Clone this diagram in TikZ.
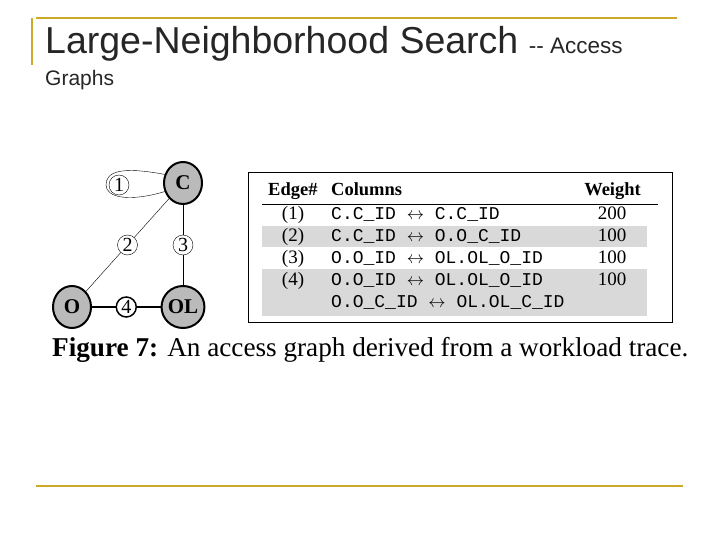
\documentclass[tikz,border=0pt]{standalone}
\usepackage{fontspec}
\setmainfont{Liberation Serif}
\setsansfont{Liberation Sans}
\setmonofont{Liberation Mono}
\begin{document}
\begin{tikzpicture}[x=1pt,y=-1pt,
  big/.style={ellipse,draw,line width=2pt,fill=black!27,minimum width=38pt,minimum height=42pt,inner sep=0pt,font=\rmfamily\bfseries\fontsize{21}{21}\selectfont},
  lab/.style={circle,draw,fill=white,minimum size=20pt,inner sep=0pt,font=\rmfamily\fontsize{20}{20}\selectfont},
  row/.style={anchor=base west,font=\ttfamily\fontsize{18}{18}\selectfont,inner sep=0pt},
  num/.style={anchor=base,font=\rmfamily\fontsize{19}{19}\selectfont,inner sep=0pt}]
\usetikzlibrary{shapes.geometric}
\definecolor{gold}{RGB}{204,170,40}
\useasboundingbox (0,0) rectangle (720,540);
\fill[white] (0,0) rectangle (720,540);
\draw[gold,line width=2pt] (36,18) -- (677,18);
\draw[gold,line width=2pt] (32,18) -- (32,65);
\draw[gold,line width=2pt] (36,486) -- (683,486);
\node[anchor=base west,inner sep=0pt,font=\sffamily\fontsize{37.5}{37}\selectfont,text=black!85] (t1) at (45,54) {Large-Neighborhood Search \fontsize{22.5}{22}\selectfont-{}- Access};
\node[anchor=base west,inner sep=0pt,font=\sffamily\fontsize{21}{21}\selectfont,text=black!85] (t2) at (45,86) {Graphs};
% graph
\node[big] (C) at (183,183) {C};
\node[big] (O) at (72,307) {O};
\node[big] (OL) at (183,307) {OL};
\draw[thin] (C.155) .. controls (120,166) and (106,172) .. (106,185) .. controls (106,198) and (130,202) .. (C.205);
\node[lab] (l1) at (119,185) {1};
\draw[thin] (O) -- node[lab,pos=0.5] (l2) {2} (C);
\draw[thin] (C) -- node[lab] (l3) {3} (OL);
\draw[line width=1.5pt] (O) -- node[lab] (l4) {4} (OL);
% table
\fill[black!15] (262,226) rectangle (647,247);
\fill[black!15] (262,269) rectangle (647,316);
\draw[line width=0.8pt] (248,172) rectangle (672,322);
\draw[line width=0.5pt] (262,204) -- (658,204);
\node[anchor=base west,inner sep=0pt,font=\rmfamily\bfseries\fontsize{18.5}{18}\selectfont] (h1) at (268,196) {Edge\#};
\node[anchor=base west,inner sep=0pt,font=\rmfamily\bfseries\fontsize{18.5}{18}\selectfont] (h2) at (331,196) {Columns};
\node[anchor=base east,inner sep=0pt,font=\rmfamily\bfseries\fontsize{18.5}{18}\selectfont] (h3) at (641,196) {Weight};
\node[num] (n1) at (293,219) {(1)};
\node[num] (n2) at (293,241) {(2)};
\node[num] (n3) at (293,263) {(3)};
\node[num] (n4) at (293,285) {(4)};
\node[row] (c1) at (331,219) {C.C\_ID {\rmfamily$\leftrightarrow$} C.C\_ID};
\node[row] (c2) at (331,241) {C.C\_ID {\rmfamily$\leftrightarrow$} O.O\_C\_ID};
\node[row] (c3) at (331,263) {O.O\_ID {\rmfamily$\leftrightarrow$} OL.OL\_O\_ID};
\node[row] (c4) at (331,285) {O.O\_ID {\rmfamily$\leftrightarrow$} OL.OL\_O\_ID};
\node[row] (c5) at (331,307) {O.O\_C\_ID {\rmfamily$\leftrightarrow$} OL.OL\_C\_ID};
\node[num] (w1) at (612,219) {200};
\node[num] (w2) at (612,241) {100};
\node[num] (w3) at (612,263) {100};
\node[num] (w4) at (612,285) {100};
\node[anchor=base west,inner sep=0pt,font=\rmfamily\fontsize{27.2}{27}\selectfont] (cap) at (52,356) {\textbf{Figure 7:} An access graph derived from a workload trace.};
\end{tikzpicture}
\end{document}
